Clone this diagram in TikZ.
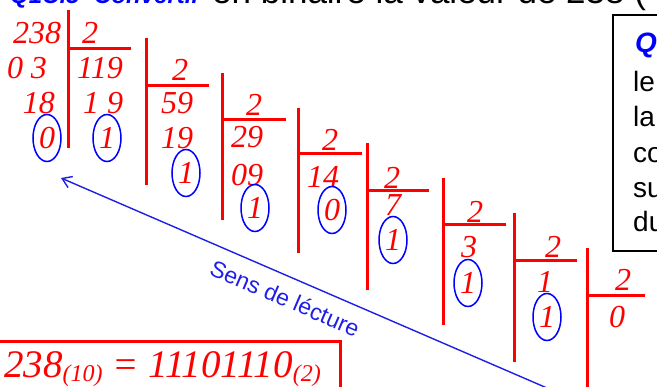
\documentclass[tikz,border=0pt]{standalone}
\usepackage{fontspec}
\setmainfont{Liberation Serif}
\setsansfont{Liberation Sans}
\usepackage{tikz}
\usetikzlibrary{arrows.meta,shapes.geometric}
\definecolor{numred}{HTML}{FF0000}
\definecolor{circblue}{HTML}{0000FF}
\definecolor{lecblue}{HTML}{1E1EE6}

\begin{document}
\begin{tikzpicture}[x=1pt, y=-1pt,
  dig/.style={text=numred, font=\fontsize{32}{34}\selectfont\itshape, inner sep=0pt},
  rem/.style={dig, draw=circblue, line width=1.5pt, ellipse,
    minimum width=28pt, minimum height=47pt},
  bar/.style={draw=numred, line width=3pt},
  lec/.style={-{Straight Barb[length=9pt,width=12pt]}, lecblue, line width=1.4pt},
  txt/.style={font=\fontsize{28}{30}\selectfont\sffamily, inner sep=0pt, anchor=base west}
]
\clip (0,0) rectangle (657,387);
% header, cut by the frame
\node[txt, text=circblue, font=\fontsize{24}{26}\selectfont\sffamily\bfseries\itshape] (qhead) at (10,4) {Q1C.5- Convertir};
\node[txt, font=\fontsize{35}{36}\selectfont\sffamily] (head) at (212,4) {en binaire la valeur de 238 (};

% division bars
\foreach \vx/\vt/\vb/\hy/\hr in {68/10/148/49/131, 146/38/185/86/209, 222/73/220/120/286,
    298/108/253/154/362, 367/143/290/191/429, 443/178/325/225/506,
    514/213/362/261/577, 587/248/395/296/645}
  \draw[bar] (\vx,\vt) -- (\vx,\vb) (\vx,\hy) -- (\hr,\hy);

% divisors
\foreach \dx/\dy [count=\i] in {90/33, 180/70, 254/105, 330/140, 392/178, 475/212, 553/247, 623/280}
  \node[dig] (d\i) at (\dx,\dy) {2};

% dividend and quotients
\node[dig] (n0) at (37,33) {238};
\node[dig] (n1) at (100,68) {119};
\node[dig] (n2) at (177,103) {59};
\node[dig] (n3) at (247,137) {29};
\node[dig] (n4) at (323,177) {14};
\node[dig] (n5) at (393,205) {7};
\node[dig] (n6) at (469,247) {3};
\node[dig] (n7) at (545,282) {1};
\node[dig] (n8) at (617,317) {0};

% partial steps
\node[dig] (s1) at (27,68) {0 3};
\node[dig] (s2) at (39,103) {18};
\node[dig] (s3) at (103,103) {1 9};
\node[dig] (s4) at (177,138) {19};
\node[dig] (s5) at (247,175) {09};

% remainders
\node[rem] (r1) at (47,138) {0};
\node[rem] (r2) at (107,138) {1};
\node[rem] (r3) at (186,173) {1};
\node[rem] (r4) at (255,208) {1};
\node[rem] (r5) at (332,210) {0};
\node[rem] (r6) at (393,240) {1};
\node[rem] (r7) at (468,283) {1};
\node[rem] (r8) at (547,317) {1};

% reading direction
\coordinate (lecstart) at (547,388);
\coordinate (lecend) at (61,178);
\draw[lec] (lecstart) -- (lecend);
\node[font=\fontsize{23}{24}\selectfont\sffamily, text=lecblue, rotate=-23.3] (leclab) at (285,298) {Sens de lécture};

% result
\draw[bar] (-5,342) -- (340,342) -- (340,395);
\node[dig, anchor=base west, font=\fontsize{39}{42}\selectfont\itshape] (res) at (4,378)
  {238\raisebox{-4pt}{\fontsize{24}{26}\selectfont(10)} = 11101110\raisebox{-4pt}{\fontsize{24}{26}\selectfont(2)}};

% question box, cut by the frame
\draw[line width=1.8pt] (700,15) -- (613,15) -- (613,251) -- (700,251);
\node[txt, text=circblue, font=\fontsize{28}{30}\selectfont\sffamily\bfseries\itshape] (bq) at (635,53) {Q};
\foreach \w/\by [count=\i] in {le/92, la/127, co/163, su/198, du/232}
  \node[txt] (bl\i) at (633,\by) {\w};
\end{tikzpicture}
\end{document}
